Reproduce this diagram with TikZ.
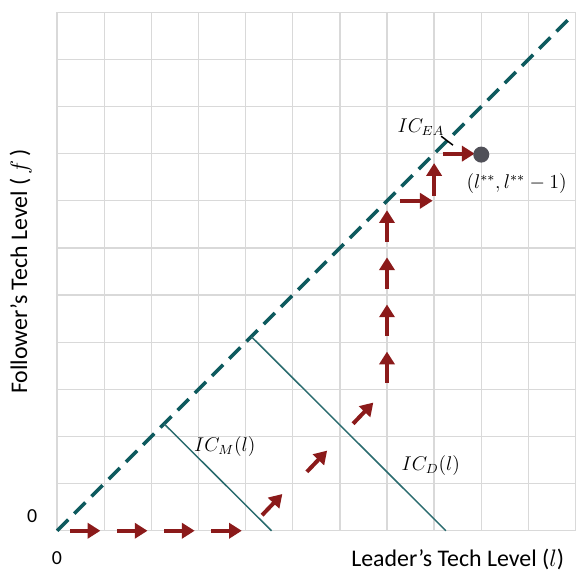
\documentclass[tikz,border=0pt]{standalone}
\usepackage{fontspec}
\setmainfont{Carlito}
\usetikzlibrary{arrows.meta}
\definecolor{tealdash}{HTML}{0E5A5E}
\definecolor{icline}{HTML}{2A6B6E}
\definecolor{stepred}{HTML}{8B1A1A}
\definecolor{dotgray}{HTML}{505058}
\tikzset{
  gridline/.style={draw=black!15, line width=0.8pt},
  stepmove/.style={draw=stepred, line width=2.4pt, -{Triangle[length=0.27cm, width=0.32cm]}},
  icurve/.style={draw=icline, line width=0.9pt}
}
\begin{document}
\begin{tikzpicture}[thick, >=stealth]
  \useasboundingbox (-1.21,-0.89) rectangle (11.01,11.26);

  % 1. Light grid, one cell per tech level
  \draw[gridline] (0,0) grid (11,11);

  % 2. The 45 degree line f = l
  \draw[tealdash, line width=2.1pt, dash pattern=on 9.5pt off 5.2pt] (0,0) -- (10.85,10.85);

  % 3. Indifference curves of the leader
  \draw[icurve] (2.27,2.27) -- (4.55,0);
  \draw[icurve] (4.12,4.12) -- (8.25,0);
  \draw[black, line width=0.9pt] (8.15,8.37) -- (8.4,8.18);

  % 4. Steps along the bottom axis
  \foreach \x in {0,1,2,3} {
    \draw[stepmove] (\x+0.27,0) -- (\x+0.92,0);
  }

  % 5. Diagonal steps
  \foreach \x/\y in {4.35/0.33, 5.3/1.25, 6.28/2.27} {
    \draw[stepmove] (\x,\y) -- (\x+0.43,\y+0.45);
  }

  % 6. Vertical steps at l = 7
  \foreach \y in {3,4,5,6} {
    \draw[stepmove] (7,\y+0.13) -- (7,\y+0.8);
  }

  % 7. Last steps near the diagonal
  \draw[stepmove] (7.27,7) -- (7.97,7);
  \draw[stepmove] (8,7.1) -- (8,7.8);
  \draw[stepmove] (8.18,8) -- (8.86,8);
  \fill[dotgray] (9,7.98) circle (0.17);

  % 8. Labels
  \node (icm) at (3.56,1.78) {\large $IC_M(l)$};
  \node (icd) at (7.93,1.38) {\large $IC_D(l)$};
  \node (icea) at (7.72,8.57) {\large $IC_{EA}$};
  \node (opt) at (9.75,7.36) {\large $(l^{**}, l^{**}-1)$};
  \node (zeroy) at (-0.53,0.3) {\large 0};
  \node (zerox) at (0,-0.57) {\large 0};
  \node (xlab) at (8.5,-0.6) {\Large Leader's Tech Level ($l$)};
  \node[rotate=90] (ylab) at (-0.77,5.5) {\Large Follower's Tech Level ($\,f$\,)};
\end{tikzpicture}
\end{document}
